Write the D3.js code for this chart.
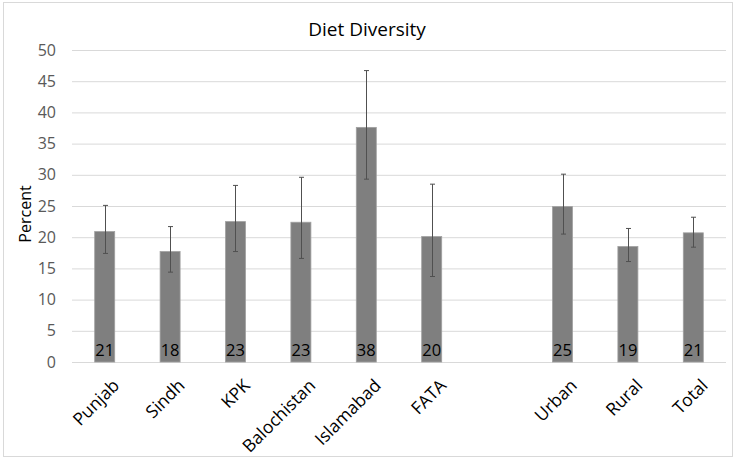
<!DOCTYPE html>
<html>
<head>
<meta charset="utf-8">
<script src="https://cdn.jsdelivr.net/npm/d3@7"></script>
<style>
  body { margin: 0; background: #fff; }
  svg { font-family: "Open Sans", "Noto Sans", sans-serif; }
</style>
</head>
<body>
<svg id="chart" width="736" height="459"></svg>
<script>
// categories ("" is the empty slot between provinces and urban/rural)
var categories = ["Punjab", "Sindh", "KPK", "Balochistan", "Islamabad", "FATA", "", "Urban", "Rural", "Total"];
var values = [20.9, 17.7, 22.5, 22.4, 37.6, 20.1, null, 24.9, 18.5, 20.7];
var valueLabels = ["21", "18", "23", "23", "38", "20", "", "25", "19", "21"];
var errLow = [17.4, 14.4, 17.7, 16.6, 29.3, 13.7, null, 20.5, 16.1, 18.4];
var errHigh = [25.1, 21.7, 28.3, 29.6, 46.7, 28.5, null, 30.1, 21.4, 23.2];
var yTicks = [0, 5, 10, 15, 20, 25, 30, 35, 40, 45, 50];

var svg = d3.select("#chart");
var plotLeft = 72, plotRight = 726, plotTop = 50, plotBottom = 362;

// outer border
svg.append("rect")
  .attr("x", 3.5).attr("y", 2.5)
  .attr("width", 729).attr("height", 454)
  .attr("fill", "none").attr("stroke", "#d9d9d9");

var xScale = d3.scaleBand().domain(categories).range([plotLeft, plotRight])
  .paddingInner(0.694).paddingOuter(0.347);
var yScale = d3.scaleLinear().domain([0, 50]).range([plotBottom, plotTop]);

// gridlines
svg.append("g").selectAll("line")
  .data(yTicks).enter().append("line")
  .attr("x1", plotLeft).attr("x2", plotRight)
  .attr("y1", d => yScale(d) + 0.5).attr("y2", d => yScale(d) + 0.5)
  .attr("stroke", "#d9d9d9").attr("stroke-width", 1);

// y axis labels
var yAxis = svg.append("g")
  .attr("transform", `translate(${plotLeft}, 0)`)
  .call(d3.axisLeft(yScale).tickValues(yTicks).tickSize(0).tickPadding(16));
yAxis.select(".domain").remove();
yAxis.selectAll("text").attr("font-size", 16).attr("fill", "#595959")
  .style("font-family", "'Open Sans', sans-serif");

// rows for drawing
var rows = categories.map((c, i) => ({name: c, v: values[i], lab: valueLabels[i], lo: errLow[i], hi: errHigh[i]}))
  .filter(d => d.v !== null);

// bars
svg.append("g").selectAll("rect")
  .data(rows).enter().append("rect")
  .attr("x", d => xScale(d.name))
  .attr("y", d => yScale(d.v))
  .attr("width", xScale.bandwidth())
  .attr("height", d => yScale(0) - yScale(d.v))
  .attr("fill", "#7f7f7f")
  .attr("stroke", "#a0a0a0").attr("stroke-width", 0.8);

// error bars
var eb = svg.append("g").attr("stroke", "#505050").attr("stroke-width", 1);
rows.forEach(d => {
  var cx = Math.round(xScale(d.name) + xScale.bandwidth() / 2) + 0.5;
  eb.append("line").attr("x1", cx).attr("x2", cx)
    .attr("y1", yScale(d.hi)).attr("y2", yScale(d.lo));
  [d.hi, d.lo].forEach(v => {
    eb.append("line").attr("x1", cx - 2.5).attr("x2", cx + 2.5)
      .attr("y1", yScale(v)).attr("y2", yScale(v));
  });
});

// value labels
svg.append("g").selectAll("text")
  .data(rows).enter().append("text")
  .attr("x", d => xScale(d.name) + xScale.bandwidth() / 2)
  .attr("y", yScale(0) - 6)
  .attr("text-anchor", "middle")
  .attr("font-size", 16.5).attr("fill", "#000")
  .text(d => d.lab);

// x labels rotated
svg.append("g").selectAll("text")
  .data(rows).enter().append("text")
  .attr("transform", d => `translate(${xScale(d.name) + xScale.bandwidth() / 2 + 7}, ${plotBottom + 16}) rotate(-45)`)
  .attr("text-anchor", "end")
  .attr("dy", "0.7em")
  .attr("font-size", 17.5).attr("fill", "#000")
  .text(d => d.name);

// y title
svg.append("text")
  .attr("transform", "translate(31, 214) rotate(-90)")
  .attr("text-anchor", "middle")
  .attr("font-size", 16).attr("fill", "#000")
  .text("Percent");

// title
svg.append("text")
  .attr("x", 367).attr("y", 36)
  .attr("text-anchor", "middle")
  .attr("font-size", 19).attr("fill", "#000")
  .text("Diet Diversity");
</script>
</body>
</html>
